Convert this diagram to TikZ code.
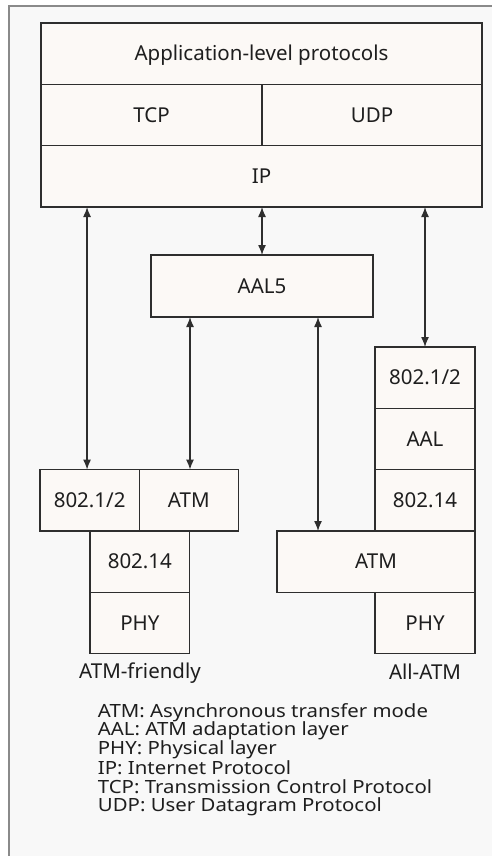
\documentclass[tikz,border=0pt]{standalone}
\usepackage{fontspec}
\setmainfont{Noto Sans}
\usetikzlibrary{arrows.meta,calc}

\definecolor{framegray}{HTML}{8A8A8A}
\definecolor{panel}{HTML}{F8F8F8}
\definecolor{boxfill}{HTML}{FCF9F6}
\definecolor{ink}{HTML}{1E1E1E}
\definecolor{edge}{HTML}{2E2E2E}

% abbreviation lines are set a little wide
\newcommand{\wideline}[1]{\scalebox{1.12}[1]{#1}}

\begin{document}
\begin{tikzpicture}[x=1pt,y=-1pt,
  layer/.style={draw=edge, line width=1.3pt, fill=boxfill, inner sep=0pt,
    outer sep=0pt, text=ink, font=\fontsize{20.5}{24}\selectfont,
    text height=14.6pt, text depth=0pt},
  link/.style={draw=edge, line width=1.3pt,
    {Latex[length=10pt,width=8pt]}-{Latex[length=10pt,width=8pt]}},
  caption/.style={inner sep=0pt, text=ink, font=\fontsize{20.5}{24}\selectfont},
  legend/.style={anchor=base west, inner sep=0pt, text=ink,
    font=\fontsize{18.2}{20}\selectfont}]

\useasboundingbox (0,0) rectangle (492,856);
\fill[white] (0,0) rectangle (492,856);
\fill[panel] (9,6) rectangle (492,856);
\draw[framegray, line width=2pt] (9,856) -- (9,6) -- (492,6);

% host protocol stack
\node[layer, minimum width=441pt, minimum height=61.3pt] (app) at (261.5,53.65) {Application-level protocols};
\node[layer, minimum width=221pt, minimum height=61.3pt] (tcp) at (151.5,114.95) {TCP};
\node[layer, minimum width=220pt, minimum height=61.3pt] (udp) at (372,114.95) {UDP};
\node[layer, minimum width=441pt, minimum height=61.4pt] (ip) at (261.5,176.3) {IP};

% adaptation layer
\node[layer, minimum width=222pt, minimum height=62pt] (aal5) at (262,286) {AAL5};

% all-ATM stack
\node[layer, minimum width=100pt, minimum height=61.3pt] (r8021) at (425,377.65) {802.1/2};
\node[layer, minimum width=100pt, minimum height=61.3pt] (raal) at (425,438.95) {AAL};
\node[layer, minimum width=100pt, minimum height=61.4pt] (r80214) at (425,500.3) {802.14};
\node[layer, minimum width=198pt, minimum height=61.3pt] (ratm) at (376,561.65) {ATM};
\node[layer, minimum width=100pt, minimum height=61.3pt] (rphy) at (425,622.95) {PHY};

% ATM-friendly stack
\node[layer, minimum width=99.3pt, minimum height=61.4pt] (l8021) at (89.65,500.3) {802.1/2};
\node[layer, minimum width=99pt, minimum height=61.4pt] (latm) at (188.8,500.3) {ATM};
\node[layer, minimum width=99.7pt, minimum height=61.3pt] (l80214) at (139.85,561.65) {802.14};
\node[layer, minimum width=99.7pt, minimum height=61.3pt] (lphy) at (139.85,622.95) {PHY};

\node[caption] (capl) at (140,673) {ATM-friendly};
\node[caption] (capr) at (425,672) {All-ATM};

% connectors
\coordinate (pl) at ([xshift=-2.6pt]l8021.north);
\coordinate (pa) at ([xshift=1.2pt]latm.north);
\coordinate (pw) at ([xshift=41pt]ratm.north west);
\draw[link] (ip.south -| pl) -- (pl);
\draw[link] (ip.south -| aal5.north) -- (aal5.north);
\draw[link] (ip.south -| r8021.north) -- (r8021.north);
\draw[link] (aal5.south -| pa) -- (pa);
\draw[link] (aal5.south -| pw) -- (pw);

% abbreviations
\node[legend] (leg1) at (97.7,717) {\wideline{ATM: Asynchronous transfer mode}};
\node[legend] (leg2) at (97.7,735.6) {\wideline{AAL: ATM adaptation layer}};
\node[legend] (leg3) at (97.7,754.2) {\wideline{PHY: Physical layer}};
\node[legend] (leg4) at (97.7,774.7) {\wideline{IP: Internet Protocol}};
\node[legend] (leg5) at (97.7,793.3) {\wideline{TCP: Transmission Control Protocol}};
\node[legend] (leg6) at (97.7,811.9) {\wideline{UDP: User Datagram Protocol}};

\end{tikzpicture}
\end{document}
